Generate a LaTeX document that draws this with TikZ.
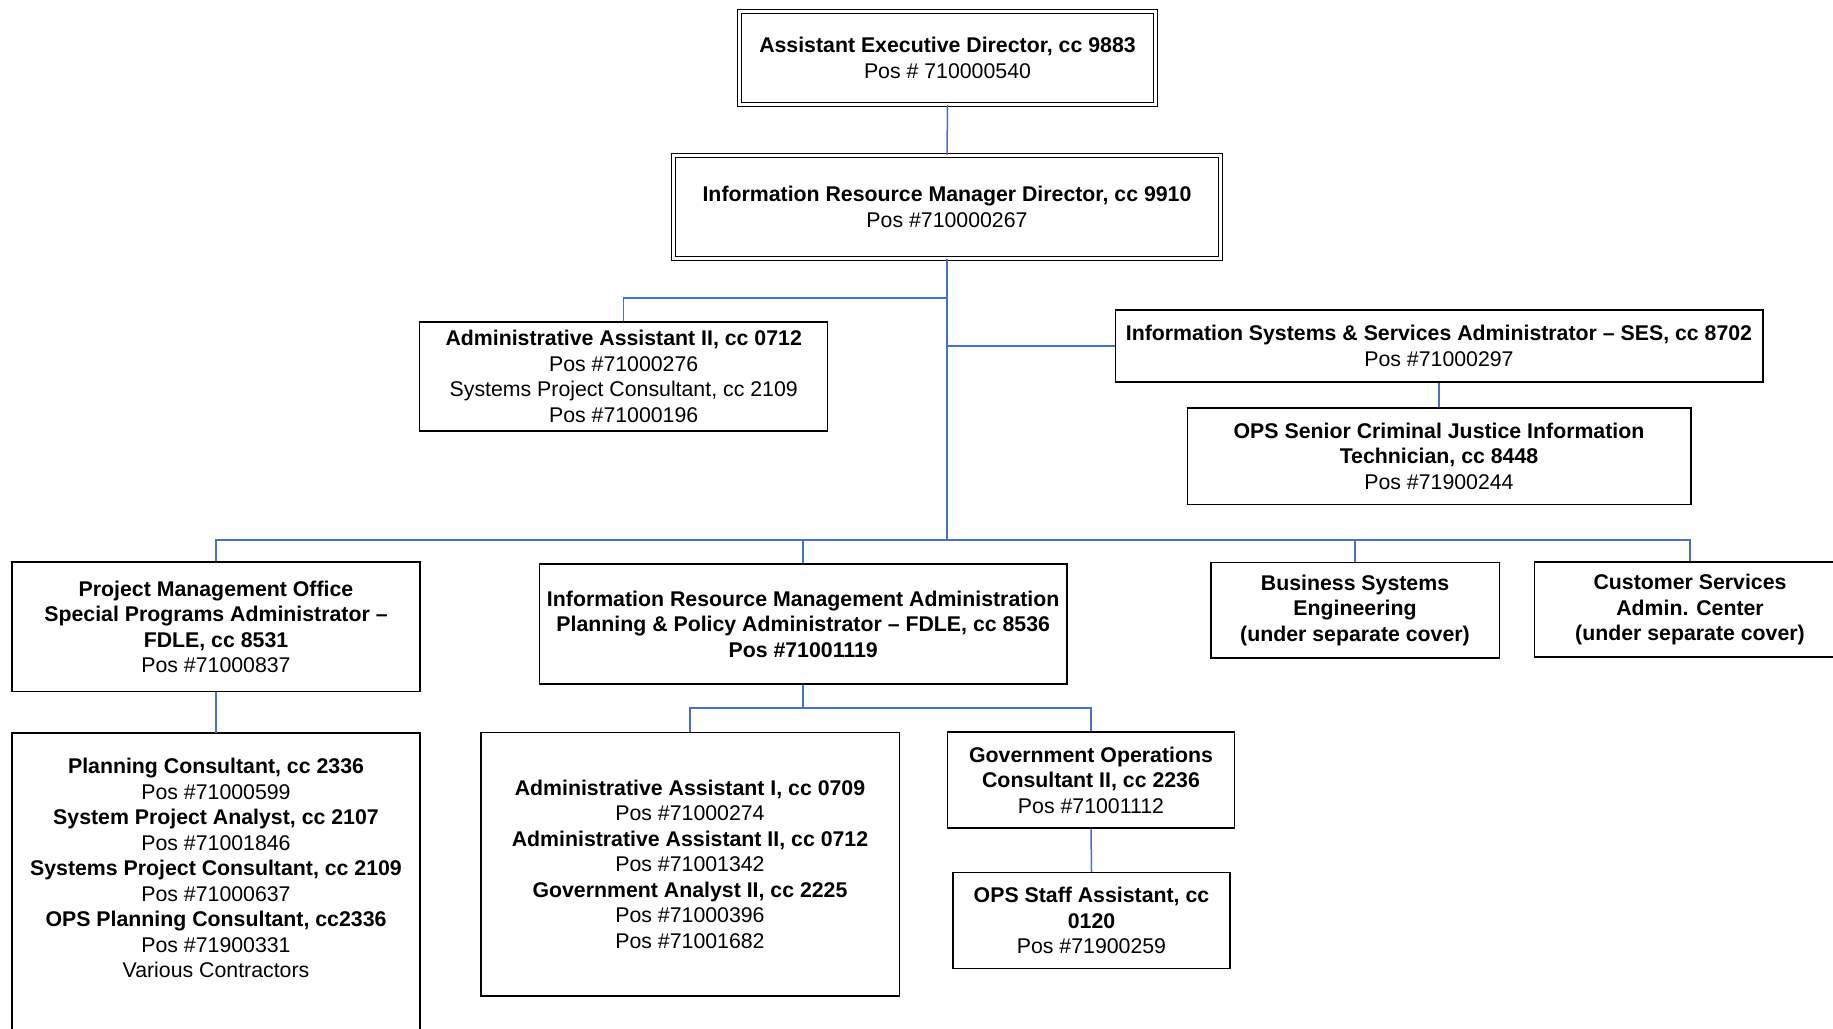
\documentclass[tikz,border=0pt]{standalone}
\usepackage{fontspec}
\setmainfont{Liberation Sans}
\definecolor{linkblue}{RGB}{68,114,196}
\begin{document}
\begin{tikzpicture}[x=1pt,y=-1pt,
  box/.style={draw=black,line width=1.5pt,rectangle,inner sep=0pt,align=center,
    font=\fontsize{21.3}{25.5}\selectfont},
  dbox/.style={box,double=white,line width=1.3pt,double distance=2.6pt},
  txt/.style={inner sep=0pt,align=center,font=\fontsize{21.3}{25.5}\selectfont},
  link/.style={draw=linkblue,line width=1.5pt},
  trunk/.style={draw=linkblue,line width=2.6pt}]
\useasboundingbox (0,0) rectangle (1833,1028);
\fill[white] (0,0) rectangle (1833,1028);

% top of the hierarchy
\node[dbox,minimum width=416pt,minimum height=93pt] (aed) at (947.5,58)
  {\textbf{Assistant Executive Director, cc 9883}\\Pos \# 710000540};
\node[dbox,minimum width=547pt,minimum height=103pt] (irmd) at (947,207)
  {\textbf{Information Resource Manager Director, cc 9910}\\Pos \#710000267};

% staff reporting to the director
\node[box,minimum width=408pt,minimum height=109pt] (admin) at (623.7,376.5)
  {\textbf{Administrative Assistant II, cc 0712}\\Pos \#71000276\\Systems Project Consultant, cc 2109\\Pos \#71000196};
\node[box,minimum width=647.5pt,minimum height=72pt] (iss) at (1439,346)
  {\textbf{Information Systems \& Services Administrator -- SES, cc 8702}\\Pos \#71000297};
\node[box,minimum width=503.5pt,minimum height=96.5pt] (opssr) at (1439,456)
  {\textbf{OPS Senior Criminal Justice Information}\\\textbf{Technician, cc 8448}\\Pos \#71900244};

% units on the lower bus
\node[box,minimum width=408pt,minimum height=129.5pt] (pmo) at (216,626.7)
  {\textbf{Project Management Office}\\\textbf{Special Programs Administrator --}\\\textbf{FDLE, cc 8531}\\Pos \#71000837};
\node[box,minimum width=527.5pt,minimum height=120pt] (irm) at (803.2,624)
  {\textbf{Information Resource Management Administration}\\\textbf{Planning \& Policy Administrator -- FDLE, cc 8536}\\\textbf{Pos \#71001119}};
\node[box,minimum width=288.5pt,minimum height=95.5pt] (bse) at (1355,610)
  {\textbf{Business Systems}\\\textbf{Engineering}\\\textbf{(under separate cover)}};
\node[box,minimum width=311.5pt,minimum height=95pt] (csac) at (1690,609.5)
  {\textbf{Customer Services}\\\textbf{Admin. Center}\\\textbf{(under separate cover)}};

% project management office staff (box runs past the lower edge)
\node[minimum width=408pt,minimum height=320pt,inner sep=0pt] (pmolist) at (216,893) {};
\draw[black,line width=1.5pt] (pmolist.south west) -- (pmolist.north west)
  -- (pmolist.north east) -- (pmolist.south east);
\node[txt] (pmolisttext) at (216,868)
  {\textbf{Planning Consultant, cc 2336}\\Pos \#71000599\\\textbf{System Project Analyst, cc 2107}\\Pos \#71001846\\\textbf{Systems Project Consultant, cc 2109}\\Pos \#71000637\\\textbf{OPS Planning Consultant, cc2336}\\Pos \#71900331\\Various Contractors};

% planning & policy staff
\node[box,minimum width=418.5pt,minimum height=263.5pt] (aa1) at (690,864)
  {\textbf{Administrative Assistant I, cc 0709}\\Pos \#71000274\\\textbf{Administrative Assistant II, cc 0712}\\Pos \#71001342\\\textbf{Government Analyst II, cc 2225}\\Pos \#71000396\\Pos \#71001682};
\node[box,minimum width=287pt,minimum height=96pt] (govops) at (1091,780)
  {\textbf{Government Operations}\\\textbf{Consultant II, cc 2236}\\Pos \#71001112};
\node[box,minimum width=277pt,minimum height=96pt] (opsstaff) at (1091.5,920.5)
  {\textbf{OPS Staff Assistant, cc}\\\textbf{0120}\\Pos \#71900259};

% junction points
\coordinate (jadmin) at (947,298);
\coordinate (jiss) at (947,346);
\coordinate (jbus) at (947,540);
\coordinate (jirm) at (803.2,708);

% connectors
\draw[link] (aed.south) -- (irmd.north);
\draw[trunk] (irmd.south) -- (jbus);
\draw[link] (jadmin) -| (admin.north);
\draw[link] (jiss) -- (iss.west);
\draw[link] (iss.south) -- (opssr.north);
\draw[link] (pmo.north) |- (jbus);
\draw[link] (jbus) -| (csac.north);
\draw[link] (irm.north) -- (irm.north |- jbus);
\draw[link] (bse.north) -- (bse.north |- jbus);
\draw[link] (pmo.south) -- (pmolist.north);
\draw[link] (irm.south) -- (jirm);
\draw[link] (aa1.north) |- (jirm) -| (govops.north);
\draw[link] (govops.south) -- (opsstaff.north);
\end{tikzpicture}
\end{document}
